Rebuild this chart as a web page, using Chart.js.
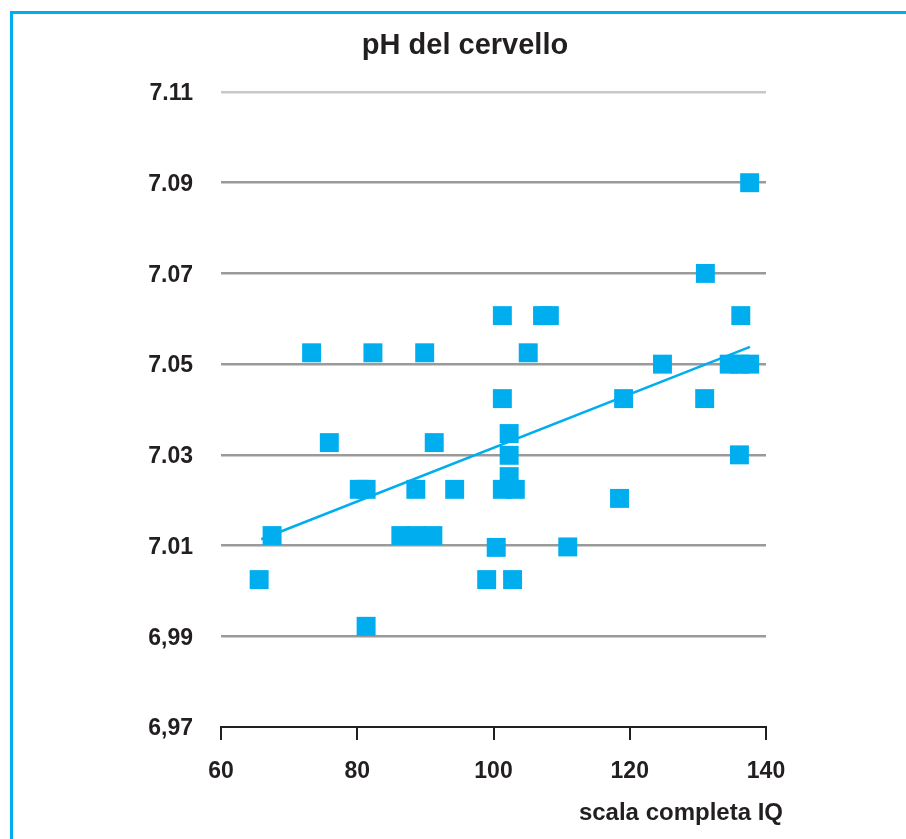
<!DOCTYPE html>
<html>
<head>
<meta charset="utf-8">
<script src="https://cdn.jsdelivr.net/npm/chart.js@4/dist/chart.umd.min.js"></script>
<style>
  html, body { margin: 0; padding: 0; background: #fff; }
  #wrap { position: relative; width: 906px; height: 839px; overflow: hidden; }
  #frame { position: absolute; left: 10px; top: 11px; width: 906px; height: 840px;
           border-left: 3px solid #00aeef; border-top: 3px solid #00aeef; pointer-events: none; }
  canvas { position: absolute; left: 0; top: 0; }
</style>
</head>
<body>
<div id="wrap">
  <canvas id="c" width="906" height="839"></canvas>
  <div id="frame"></div>
</div>
<script>
// ---- data ----
const chartTitle = 'pH del cervello';
const xAxisTitle = 'scala completa IQ';
const xTickLabels = ['60', '80', '100', '120', '140'];
const yTickLabels = ['6,97', '6,99', '7.01', '7.03', '7.05', '7.07', '7.09', '7.11'];
const iqValues = [65.6, 67.5, 73.3, 75.9, 80.3, 81.3, 82.3, 81.3, 86.4, 88.7,
                  91.1, 88.6, 89.9, 91.3, 94.3, 99.0, 100.4, 101.3, 101.3, 102.3,
                  102.3, 102.3, 101.3, 103.2, 102.8, 105.1, 107.2, 108.2, 110.9, 118.5,
                  119.1, 124.8, 131.1, 131.0, 136.3, 134.6, 136.1, 137.6, 136.1, 137.6];
const phValues = [7.0025, 7.0122, 7.0525, 7.0327, 7.0224, 7.0224, 7.0525, 6.9922, 7.0122, 7.0122,
                  7.0122, 7.0224, 7.0525, 7.0327, 7.0224, 7.0025, 7.0096, 7.0607, 7.0424, 7.0347,
                  7.0299, 7.0252, 7.0224, 7.0224, 7.0025, 7.0525, 7.0607, 7.0607, 7.0097, 7.0204,
                  7.0424, 7.05, 7.07, 7.0424, 7.0607, 7.05, 7.05, 7.05, 7.03, 7.09];
const trendX = [65.9, 137.65];
const trendY = [7.0114, 7.0538];

// ---- build ----
const CYAN = '#00aeef';
const DARK = '#231f20';
const FONT = "'Liberation Sans', Arial, Helvetica, sans-serif";

const scatterData = iqValues.map((x, i) => ({ x: x, y: phValues[i] }));
const trendData = trendX.map((x, i) => ({ x: x, y: trendY[i] }));

const textPlugin = {
  id: 'texts',
  afterDraw(chart) {
    const ctx = chart.ctx;
    const xs = chart.scales.x;
    ctx.save();
    ctx.fillStyle = DARK;
    ctx.textBaseline = 'middle';
    // chart title
    ctx.font = 'bold 29px ' + FONT;
    ctx.textAlign = 'center';
    ctx.fillText(chartTitle, 465, 46);
    // x axis title
    ctx.font = 'bold 24px ' + FONT;
    ctx.textAlign = 'right';
    ctx.fillText(xAxisTitle, xs.right + 17, xs.top + 86);
    ctx.restore();
  }
};

new Chart(document.getElementById('c'), {
  type: 'scatter',
  data: {
    datasets: [
      {
        type: 'line',
        data: trendData,
        borderColor: CYAN,
        borderWidth: 2.5,
        pointRadius: 0,
        fill: false,
        order: 2
      },
      {
        data: scatterData,
        pointStyle: 'rect',
        pointRadius: 13.4,
        pointHoverRadius: 13.4,
        backgroundColor: CYAN,
        borderWidth: 0,
        order: 1
      }
    ]
  },
  options: {
    responsive: false,
    animation: false,
    layout: { padding: { left: 100, right: 140, top: 92, bottom: 0 } },
    plugins: {
      legend: { display: false },
      tooltip: { enabled: false },
      title: { display: false }
    },
    scales: {
      x: {
        type: 'linear',
        min: 60, max: 140,
        afterFit(scale) { scale.height = 112; },
        ticks: {
          stepSize: 20,
          color: DARK,
          font: { family: FONT, size: 23, weight: 'bold' },
          padding: 18,
          maxRotation: 0,
          callback: (v, i) => xTickLabels[i]
        },
        grid: {
          drawOnChartArea: false,
          drawTicks: true,
          tickLength: 13,
          color: DARK,
          lineWidth: 2
        },
        border: { display: true, color: DARK, width: 2 }
      },
      y: {
        type: 'linear',
        min: 6.97, max: 7.11,
        afterFit(scale) { scale.width = 121; },
        ticks: {
          stepSize: 0.02,
          color: DARK,
          font: { family: FONT, size: 23, weight: 'bold' },
          padding: 28,
          labelOffset: 2,
          callback: (v, i) => yTickLabels[i]
        },
        grid: {
          drawTicks: false,
          lineWidth: 2.5,
          color: (ctx) => {
            const n = yTickLabels.length;
            if (ctx.index === 0) return 'rgba(0,0,0,0)';
            if (ctx.index === n - 1) return '#c8c8c8';
            return '#9a9a9a';
          }
        },
        border: { display: false }
      }
    }
  },
  plugins: [textPlugin]
});
</script>
</body>
</html>
